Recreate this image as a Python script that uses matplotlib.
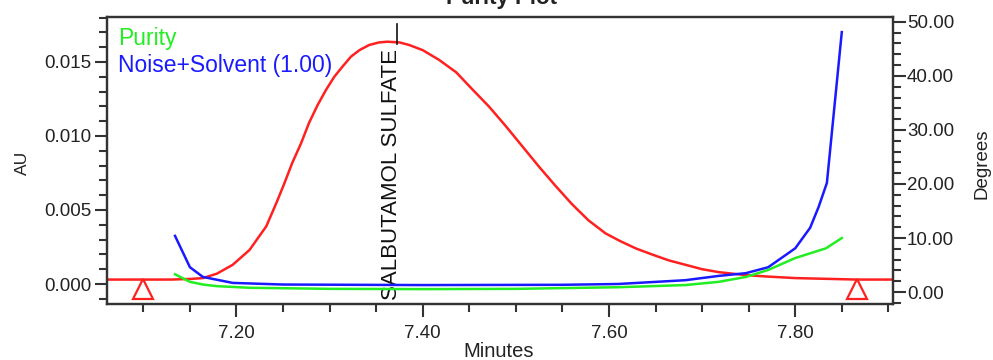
import matplotlib
matplotlib.use('Agg')
import matplotlib.pyplot as plt
from matplotlib.ticker import MultipleLocator, FormatStrFormatter

plt.rcParams['font.family'] = ['Liberation Sans', 'DejaVu Sans']

# chromatogram (AU)
t_chrom = [7.061, 7.10, 7.13, 7.153, 7.164, 7.179, 7.196, 7.214, 7.232, 7.243,
           7.2514, 7.260, 7.2693, 7.278, 7.2872, 7.296, 7.305, 7.314, 7.3229, 7.332,
           7.3425, 7.353, 7.362, 7.375, 7.3854, 7.40, 7.4176, 7.436, 7.4533, 7.471,
           7.489, 7.507, 7.5248, 7.543, 7.5605, 7.578, 7.5963, 7.612, 7.629, 7.646,
           7.664, 7.682, 7.70, 7.718, 7.747, 7.771, 7.80, 7.866, 7.905]
au_chrom = [0.0003, 0.0003, 0.0003, 0.00035, 0.0004, 0.0007, 0.0013, 0.0023, 0.0039, 0.0055,
            0.0068, 0.0082, 0.0095, 0.0109, 0.0121, 0.0131, 0.0140, 0.0147, 0.01536, 0.0158,
            0.01615, 0.01632, 0.01637, 0.01632, 0.01615, 0.0158, 0.01514, 0.0143, 0.01315, 0.0120,
            0.01068, 0.0093, 0.00793, 0.0066, 0.00538, 0.0043, 0.00342, 0.0029, 0.0024, 0.0020,
            0.0016, 0.0013, 0.0010, 0.0008, 0.0006, 0.0005, 0.0004, 0.0003, 0.0003]

# purity angle (degrees)
t_purity = [7.134, 7.150, 7.164, 7.179, 7.214, 7.30, 7.40, 7.50, 7.61, 7.682,
            7.718, 7.747, 7.771, 7.800, 7.833, 7.850]
purity = [3.3, 1.9, 1.4, 1.1, 0.8, 0.6, 0.55, 0.6, 0.9, 1.3,
          1.9, 2.8, 4.1, 6.3, 8.1, 10.0]

# noise + solvent threshold (degrees)
t_noise = [7.134, 7.150, 7.164, 7.196, 7.25, 7.40, 7.55, 7.61, 7.682, 7.718,
           7.747, 7.771, 7.800, 7.816, 7.825, 7.834, 7.850]
noise = [10.4, 4.6, 2.8, 1.7, 1.4, 1.3, 1.35, 1.5, 2.2, 3.0,
         3.5, 4.6, 8.1, 11.9, 15.7, 20.2, 48.1]

# integration marks
t_marks = [7.10, 7.866]
au_marks = [-0.00034, -0.00034]

peak_name = 'SALBUTAMOL SULFATE'
peak_rt = 7.368

fig = plt.figure(figsize=(9.93, 3.6), dpi=100)
ax = fig.add_axes([0.1078, 0.1556, 0.7915, 0.7972])
ax2 = ax.twinx()

ax.plot(t_chrom, au_chrom, color='#ff2020', lw=1.8)
ax.plot(t_marks, au_marks, ls='none', marker='^', ms=15, mfc='none',
        mec='#ff2020', mew=1.6)
ax2.plot(t_noise, noise, color='#1a1aff', lw=1.8)
ax2.plot(t_purity, purity, color='#22ee22', lw=1.8)

ax.set_xlim(7.061, 7.905)
ax.set_ylim(-0.00135, 0.01804)
ax2.set_ylim(-2.2, 50.9)

ax.xaxis.set_major_locator(MultipleLocator(0.2))
ax.xaxis.set_minor_locator(MultipleLocator(0.05))
ax.xaxis.set_major_formatter(FormatStrFormatter('%.2f'))
ax.yaxis.set_major_locator(MultipleLocator(0.005))
ax.yaxis.set_minor_locator(MultipleLocator(0.001))
ax.yaxis.set_major_formatter(FormatStrFormatter('%.3f'))
ax2.yaxis.set_major_locator(MultipleLocator(10))
ax2.yaxis.set_minor_locator(MultipleLocator(2))
ax2.yaxis.set_major_formatter(FormatStrFormatter('%.2f'))

for a in (ax, ax2):
    for s in a.spines.values():
        s.set_linewidth(1.6)
        s.set_color('#333333')
ax.tick_params(which='major', length=9, width=1.5, color='#333333',
               labelsize=13.5, labelcolor='#222222', pad=2)
ax.tick_params(which='minor', length=5.5, width=1.5, color='#333333')
ax.tick_params(axis='x', which='major', pad=6)
ax2.tick_params(which='major', length=9, width=1.5, color='#333333',
                labelsize=13.5, labelcolor='#222222', pad=1)
ax2.tick_params(which='minor', length=5.5, width=1.5, color='#333333')

ax.set_xlabel('Minutes', fontsize=14.5, color='#222222')
ax.xaxis.set_label_coords(0.4987, -0.132)
ax.set_ylabel('AU', fontsize=12.5, color='#222222')
ax.yaxis.set_label_coords(-0.098, 0.49)
ax2.set_ylabel('Degrees', fontsize=13.5, color='#222222')
ax2.yaxis.set_label_coords(1.1018, 0.49)

# legend text
ax.text(0.0145, 0.965, 'Purity', transform=ax.transAxes, color='#22ee22',
        fontsize=16.5, va='top', ha='left')
ax.text(0.0145, 0.87, 'Noise+Solvent (1.00)', transform=ax.transAxes,
        color='#1a1aff', fontsize=16.5, va='top', ha='left')

# peak label
ax.text(peak_rt - 0.002, -0.00108, peak_name, rotation=90, fontsize=16,
        color='#111111', ha='center', va='bottom')
ax.plot([peak_rt + 0.004, peak_rt + 0.004], [0.0162, 0.0176], color='#111111', lw=1.2)

fig.text(0.505, 1 - 4 / 360, 'Purity Plot', fontsize=16, fontweight='bold',
         ha='center', va='baseline', color='#222222')

fig.savefig('out.png', dpi=100)
